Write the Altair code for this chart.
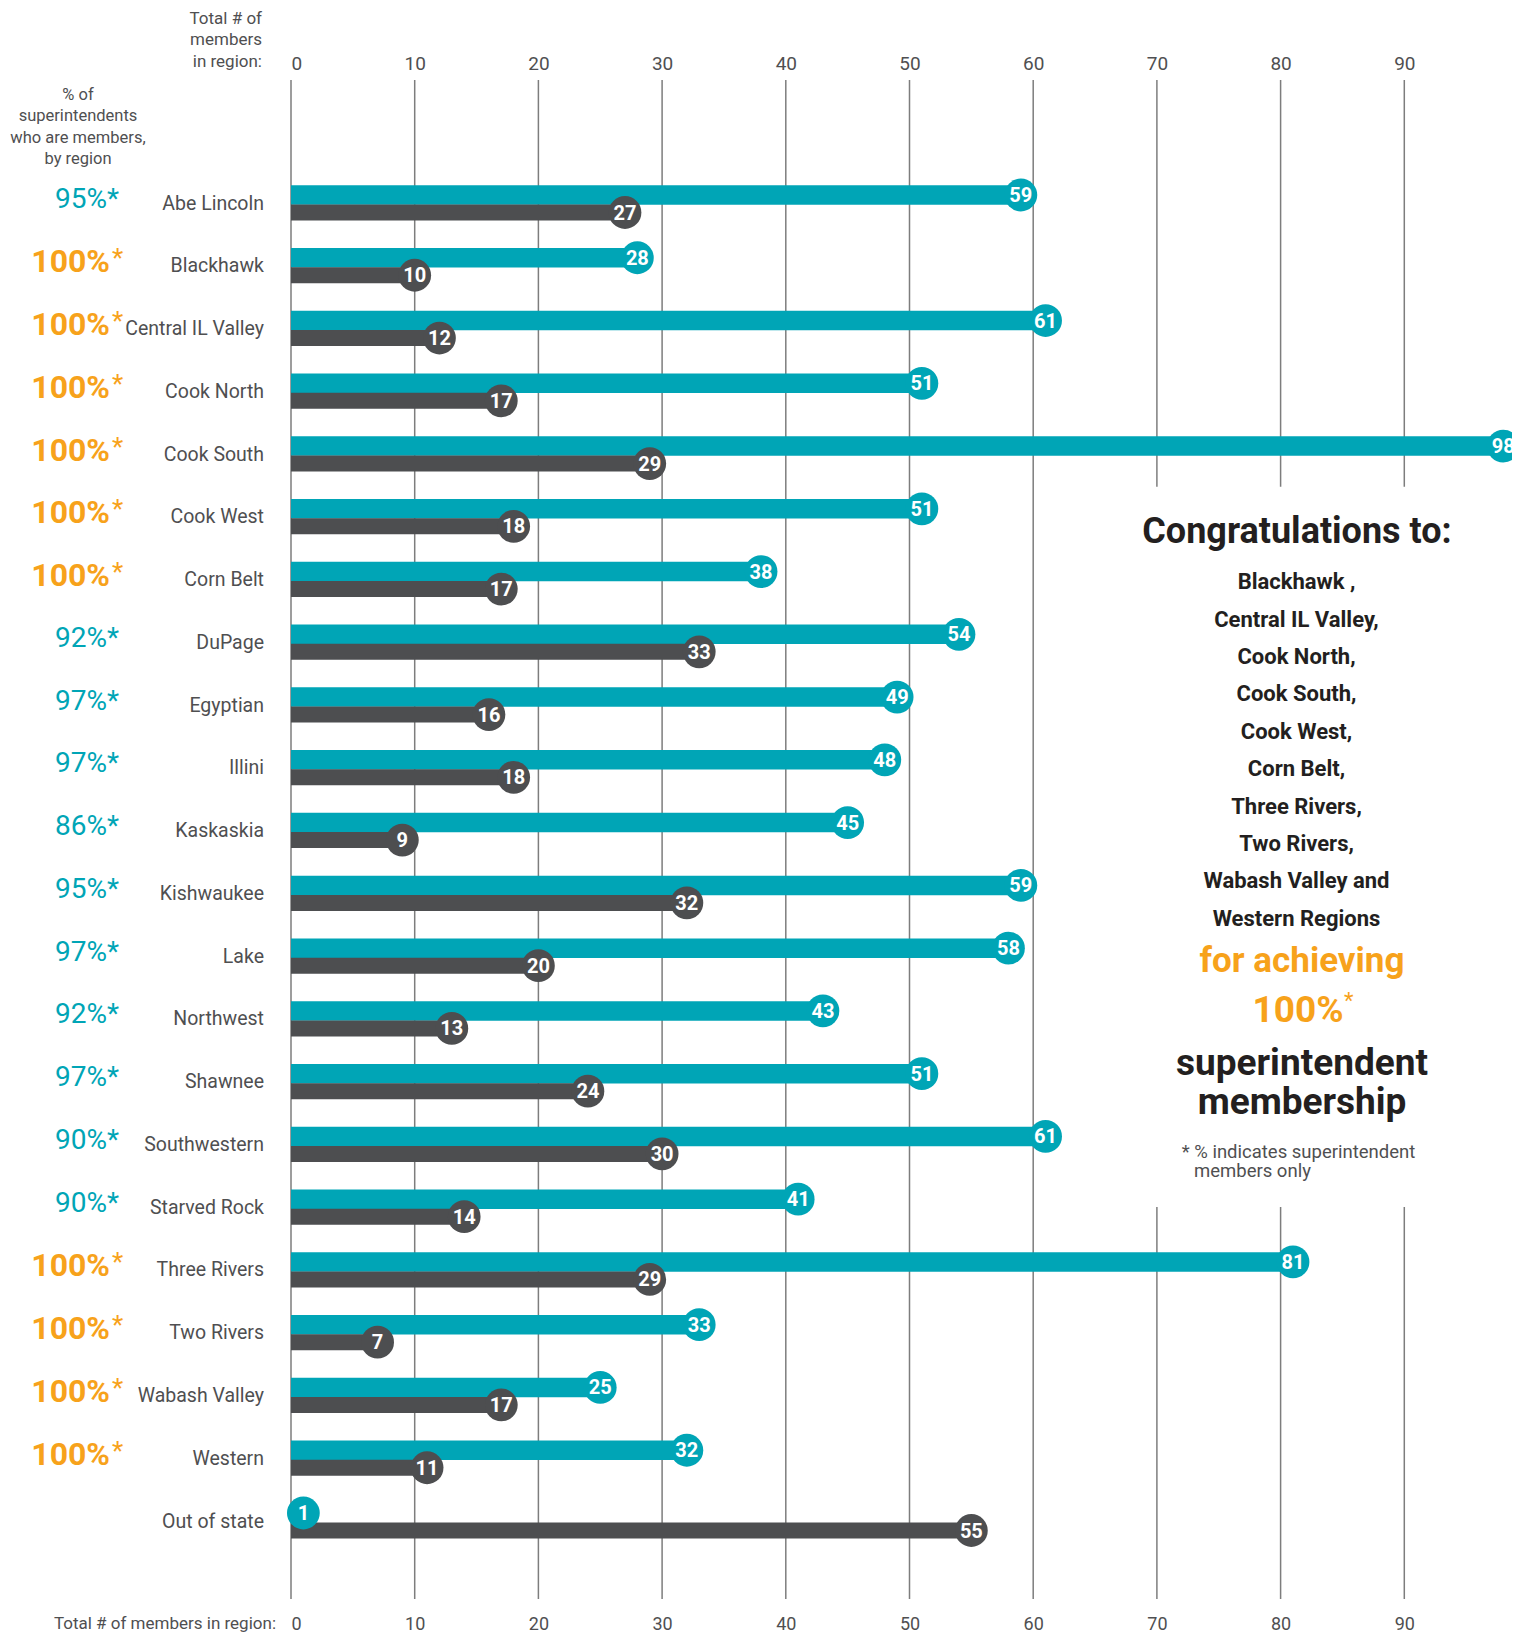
import altair as alt
import pandas as pd

# ---------------- data ----------------
regions = ["Abe Lincoln", "Blackhawk", "Central IL Valley", "Cook North", "Cook South",
           "Cook West", "Corn Belt", "DuPage", "Egyptian", "Illini", "Kaskaskia",
           "Kishwaukee", "Lake", "Northwest", "Shawnee", "Southwestern", "Starved Rock",
           "Three Rivers", "Two Rivers", "Wabash Valley", "Western", "Out of state"]
teal_values = [59, 28, 61, 51, 98, 51, 38, 54, 49, 48, 45, 59, 58, 43, 51, 61, 41, 81, 33, 25, 32, 1]
dark_values = [27, 10, 12, 17, 29, 18, 17, 33, 16, 18, 9, 32, 20, 13, 24, 30, 14, 29, 7, 17, 11, 55]
pct_values = [95, 100, 100, 100, 100, 100, 100, 92, 97, 97, 86, 95, 97, 92, 97, 90, 90,
              100, 100, 100, 100, None]
tick_values = [0, 10, 20, 30, 40, 50, 60, 70, 80, 90]

header_left = ["% of", "superintendents", "who are members,", "by region"]
header_top = ["Total # of", "members", "in region:"]
footer_title = "Total # of members in region:"
congrats_title = "Congratulations to:"
congrats_list = ["Blackhawk ,", "Central IL Valley,", "Cook North,", "Cook South,", "Cook West,",
                 "Corn Belt,", "Three Rivers,", "Two Rivers,", "Wabash Valley and", "Western Regions"]

# ---------------- style ----------------
FONT = "Roboto"
TEAL = "#00A5B6"
DARK = "#4D4E50"
ORANGE = "#F7A21B"
LABEL = "#4F4F51"
INK = "#231F20"
GRID = "#7D7D7D"

W = 1221
H = 1519
XMAX = W / 12.37

rows = pd.DataFrame({"region": regions, "teal": teal_values, "dark": dark_values,
                     "pct": pct_values})
ticks = pd.DataFrame({"t": tick_values})

xscale = alt.Scale(domain=[0, XMAX], nice=False, zero=True)
yscale = alt.Scale(type="point", domain=regions, range=[124, 1442], padding=0)

top_axis = alt.Axis(orient="top", values=tick_values, grid=False,
                    domain=False, ticks=False, tickSize=0, labelPadding=11,
                    labelBaseline="alphabetic", labelFont=FONT, labelFontSize=19,
                    labelColor=LABEL, title=None)
bottom_axis = alt.Axis(orient="bottom", values=tick_values, grid=False, domain=False,
                       ticks=False, tickSize=0, labelPadding=30,
                       labelBaseline="alphabetic", labelFont=FONT, labelFontSize=18,
                       labelColor=LABEL, title=None)

base = alt.Chart(rows).transform_calculate(zero="0")
Y = alt.Y("region:N", sort=regions, scale=yscale, axis=None)

TEAL_OFF = -9
DARK_OFF = 8.5

one = alt.Chart(pd.DataFrame({"k": [0]}))

# vertical grid lines at the tick values
grid = alt.Chart(ticks).mark_rule(color=GRID, strokeWidth=1.5).encode(
    x=alt.X("t:Q", scale=xscale, axis=None), y=alt.value(0), y2=alt.value(H))

# blank area behind the congratulations note
patch = one.mark_rect(color="white").encode(
    x=alt.XDatum(64, type="quantitative", scale=xscale, axis=None),
    x2=alt.value(W), y=alt.value(406.7), y2=alt.value(1127))

teal_bar = base.mark_rule(color=TEAL, strokeWidth=19.5, yOffset=TEAL_OFF).encode(
    x=alt.X("teal:Q", scale=xscale, axis=top_axis),
    x2="zero:Q",
    y=Y,
)
dark_bar = base.mark_rule(color=DARK, strokeWidth=16, yOffset=DARK_OFF).encode(
    x=alt.X("dark:Q", scale=xscale, axis=bottom_axis),
    x2="zero:Q",
    y=Y,
)
teal_dot = base.mark_circle(color=TEAL, size=1075, opacity=1, yOffset=TEAL_OFF).encode(
    x=alt.X("teal:Q", scale=xscale, axis=None), y=Y)
dark_dot = base.mark_circle(color=DARK, size=1075, opacity=1, yOffset=DARK_OFF).encode(
    x=alt.X("dark:Q", scale=xscale, axis=None), y=Y)
teal_num = base.mark_text(color="white", font=FONT, fontSize=20, fontWeight="bold",
                          baseline="middle", align="center", yOffset=TEAL_OFF, dy=1).encode(
    x=alt.X("teal:Q", scale=xscale, axis=None), y=Y, text="teal:Q")
dark_num = base.mark_text(color="white", font=FONT, fontSize=20, fontWeight="bold",
                          baseline="middle", align="center", yOffset=DARK_OFF, dy=1).encode(
    x=alt.X("dark:Q", scale=xscale, axis=None), y=Y, text="dark:Q")

region_lbl = base.mark_text(color=LABEL, font=FONT, fontSize=19.5, align="right",
                            baseline="alphabetic", dy=5.5).encode(
    x=alt.value(-27), y=Y, text="region:N")

pct_teal = base.transform_filter("isValid(datum.pct) && datum.pct < 100").transform_calculate(
    label="datum.pct + '%*'").mark_text(
    color=TEAL, font=FONT, fontSize=28, align="right", baseline="alphabetic", dy=3.5).encode(
    x=alt.value(-172), y=Y, text="label:N")
pct_full = base.transform_filter("datum.pct == 100").transform_calculate(
    label="datum.pct + '%'").mark_text(
    color=ORANGE, font=FONT, fontSize=32, fontWeight="bold", align="right",
    baseline="alphabetic", dy=5.5).encode(
    x=alt.value(-181), y=Y, text="label:N")
pct_star = base.transform_filter("datum.pct == 100").mark_text(
    color=ORANGE, font=FONT, fontSize=26, align="left", baseline="alphabetic", dy=0.5,
    text="*").encode(x=alt.value(-179), y=Y)


def note(text, x, y, size, color=INK, weight="normal", align="center", line_height=None):
    kw = dict(text=text, font=FONT, fontSize=size, color=color, fontWeight=weight,
              align=align, baseline="alphabetic")
    if line_height is not None:
        kw["lineHeight"] = line_height
    return one.mark_text(**kw).encode(x=alt.value(x), y=alt.value(y))


notes = [
    note(header_left, -213, 20, 16.5, color=LABEL, line_height=21.4),
    note(header_top, -29, -56, 17, color=LABEL, align="right", line_height=21.4),
    note(footer_title, -15, 1549, 17, color=LABEL, align="right"),
    note(congrats_title, 1006, 463, 36, weight="bold"),
    note(congrats_list, 1005.5, 509.3, 22, weight="bold", line_height=37.4),
    note("for achieving", 1011, 891.7, 35, color=ORANGE, weight="bold"),
    note("100%", 1007, 941.7, 37, color=ORANGE, weight="bold"),
    note("*", 1053, 928, 22, color=ORANGE, align="left"),
    note("superintendent", 1011, 995, 37, weight="bold"),
    note("membership", 1011, 1034, 37, weight="bold"),
    note("* % indicates superintendent", 890.7, 1077.7, 18.5, color=LABEL, align="left"),
    note("members only", 903, 1096.7, 18.5, color=LABEL, align="left"),
]

chart = alt.layer(
    grid, patch, teal_bar, dark_bar, teal_dot, dark_dot, teal_num, dark_num,
    region_lbl, pct_teal, pct_full, pct_star, *notes
).resolve_axis(x="independent").properties(
    width=W, height=H,
    background="white",
    autosize=alt.AutoSizeParams(type="none"),
    padding={"left": 283, "top": 72, "right": 0, "bottom": 34},
).configure_view(strokeWidth=0, strokeOpacity=0).configure_axis(domain=False, grid=False)

chart.save("out.html", embed_options={"renderer": "svg", "actions": False})
